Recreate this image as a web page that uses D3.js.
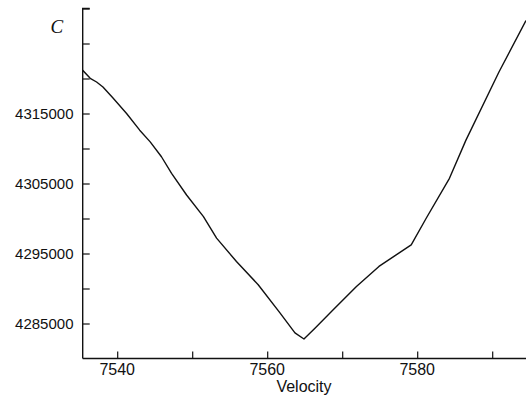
<!DOCTYPE html>
<html>
<head>
<meta charset="utf-8">
<script src="https://cdn.jsdelivr.net/npm/d3@7"></script>
<style>
  html, body { margin: 0; padding: 0; background: #fff; }
  svg { display: block; }
</style>
</head>
<body>
<svg id="chart" width="526" height="400"></svg>
<script>
// ---- data ----
const velocity = [7535.4, 7536.4, 7537.25, 7538.1, 7539.5, 7541.25, 7543.0, 7544.4, 7545.9, 7547.25,
  7549.25, 7551.5, 7553.25, 7555.9, 7558.8, 7561.7, 7563.7, 7564.9, 7566.4, 7568.8,
  7571.9, 7574.9, 7577.2, 7579.2, 7581.2, 7584.3, 7586.5, 7590.9, 7594.5];
const cValues = [4321170, 4320030, 4319500, 4318790, 4317140, 4315000, 4312620, 4310950, 4308820, 4306450,
  4303360, 4300270, 4297190, 4293860, 4290540, 4286510, 4283660, 4282780, 4284370, 4286980,
  4290300, 4293150, 4294810, 4296240, 4300040, 4305740, 4311200, 4320930, 4328290];
const xTicks = [7540, 7550, 7560, 7570, 7580, 7590];
const xTickLabels = [7540, 7560, 7580];
const yTicks = [4285000, 4290000, 4295000, 4300000, 4305000, 4310000, 4315000, 4320000, 4325000, 4330000];
const yTickLabels = [4285000, 4295000, 4305000, 4315000];
const xTitle = "Velocity";
const yTitle = "C";

// ---- scales ----
const x = d3.scaleLinear().domain([7535.4, 7595.0]).range([82.7, 529.7]);
const y = d3.scaleLinear().domain([4280000, 4330000]).range([358.5, 8.5]);

const svg = d3.select("#chart");
const ink = "#111";

// clip for the plot
svg.append("defs").append("clipPath").attr("id", "plot")
  .append("rect").attr("x", 83).attr("y", 0).attr("width", 450).attr("height", 359);

// ---- axes ----
// y axis: ticks pointing inward (right)
const yAxis = d3.axisRight(y).tickValues(yTicks).tickSize(7).tickFormat("");
const gy = svg.append("g").attr("transform", `translate(${x.range()[0]},0)`).call(yAxis);
gy.select(".domain").attr("d", `M7,${y(4330000)}H0V${y(4280000)}`).attr("stroke", ink).attr("stroke-width", 1.4);
gy.selectAll(".tick line").attr("stroke", ink).attr("stroke-width", 1.2);

svg.append("g").selectAll("text").data(yTickLabels).join("text")
  .attr("x", 73.5).attr("y", d => y(d) + 5.5)
  .attr("text-anchor", "end")
  .attr("font-family", "'Liberation Sans', Arial, sans-serif")
  .attr("font-size", 15).attr("fill", ink)
  .text(d => d);

// x axis: ticks pointing inward (up)
const xAxis = d3.axisTop(x).tickValues(xTicks).tickSize(7).tickFormat("");
const gx = svg.append("g").attr("transform", `translate(0,${y.range()[0]})`).call(xAxis);
gx.select(".domain").attr("d", `M${x.range()[0]},0H${x.range()[1]}`).attr("stroke", ink).attr("stroke-width", 1.6);
gx.selectAll(".tick line").attr("stroke", ink).attr("stroke-width", 1.2);

svg.append("g").selectAll("text").data(xTickLabels).join("text")
  .attr("x", d => x(d)).attr("y", 375)
  .attr("text-anchor", "middle")
  .attr("font-family", "'Liberation Sans', Arial, sans-serif")
  .attr("font-size", 16).attr("fill", ink)
  .text(d => d);

// axis titles
svg.append("text").attr("x", 304).attr("y", 392)
  .attr("text-anchor", "middle")
  .attr("font-family", "'Liberation Sans', Arial, sans-serif")
  .attr("font-size", 16).attr("fill", ink)
  .text(xTitle);

svg.append("text").attr("x", 50.5).attr("y", 33)
  .attr("font-family", "'Liberation Serif', 'DejaVu Serif', serif")
  .attr("font-style", "italic")
  .attr("font-size", 19).attr("fill", ink)
  .text(yTitle);

// ---- line ----
const pts = velocity.map((v, i) => [v, cValues[i]]);
const line = d3.line().x(d => x(d[0])).y(d => y(d[1]));
svg.append("path")
  .datum(pts)
  .attr("clip-path", "url(#plot)")
  .attr("fill", "none")
  .attr("stroke", ink)
  .attr("stroke-width", 1.4)
  .attr("stroke-linejoin", "round")
  .attr("d", line);
</script>
</body>
</html>
